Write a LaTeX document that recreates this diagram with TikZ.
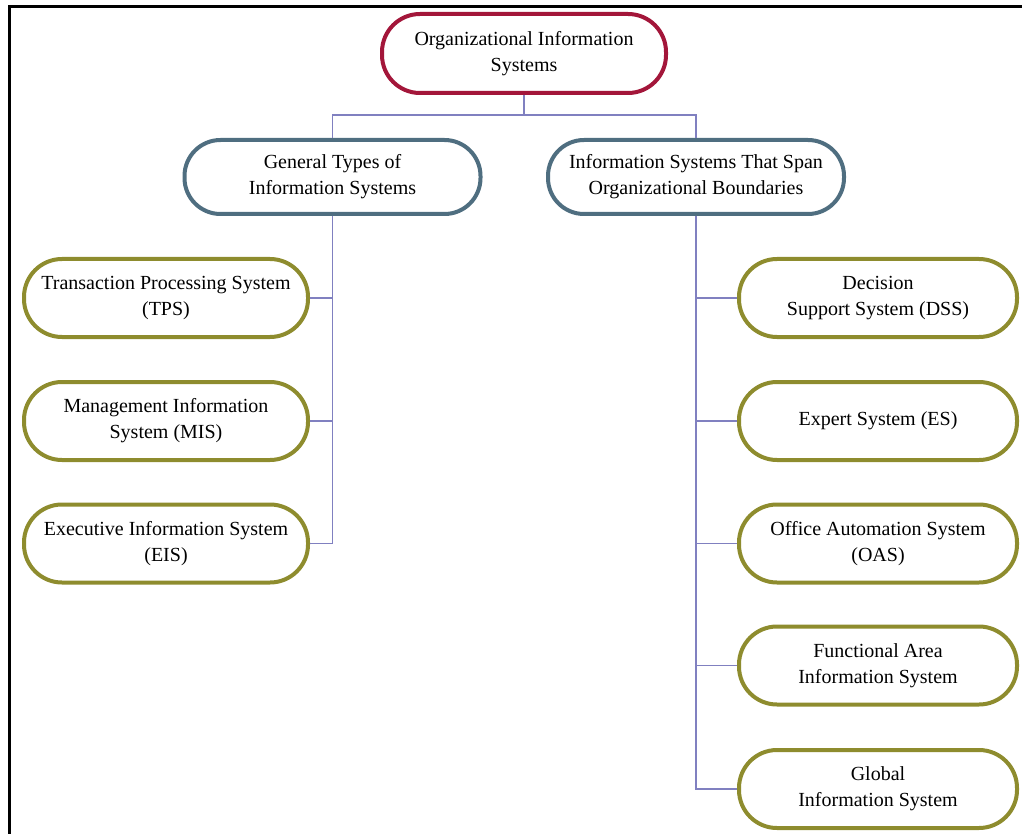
\documentclass[tikz,border=0pt]{standalone}
\usepackage{fontspec}
\setmainfont{Liberation Serif}
\usepackage{xcolor}
\definecolor{RootRed}{HTML}{A3163A}
\definecolor{MidSlate}{HTML}{4F6E80}
\definecolor{LeafOlive}{HTML}{8E8C2E}
\definecolor{LinkLilac}{HTML}{8080C0}

\begin{document}
\begin{tikzpicture}[
	x=1pt, y=-1pt,
	box/.style={
		rectangle,
		rounded corners=38pt,
		fill=white,
		line width=4pt,
		text=black,
		align=center,
		font=\fontsize{20}{26}\selectfont
	},
	root node/.style={
		box,
		draw=RootRed,
		minimum width=284pt,
		minimum height=79pt
	},
	mid node/.style={
		box,
		draw=MidSlate,
		minimum width=296pt,
		minimum height=74pt,
		rounded corners=36pt
	},
	leaf node/.style={
		box,
		draw=LeafOlive,
		minimum width=284pt,
		minimum height=78pt
	},
	% thin tree connector
	edge/.style={
		draw=LinkLilac,
		line width=1.3pt
	}
	]
	
	\useasboundingbox (0,0) rectangle (1022,834);
	
	% page frame
	\draw[line width=3pt] (9.5,834) -- (9.5,7) -- (1022,7);
	
	% ================= NODES =================
	\node[root node] (org) at (524, 53.5) {Organizational Information\\Systems};
	
	\node[mid node] (gen) at (332.5, 177) {General Types of\\Information Systems};
	\node[mid node] (span) at (696, 177) {Information Systems That Span\\Organizational Boundaries};
	
	\node[leaf node] (tps) at (166, 298) {Transaction Processing System\\(TPS)};
	\node[leaf node] (mis) at (166, 421) {Management Information\\System (MIS)};
	\node[leaf node] (eis) at (166, 543.5) {Executive Information System\\(EIS)};
	
	\node[leaf node, minimum width=278pt] (dss) at (878, 298) {Decision\\Support System (DSS)};
	\node[leaf node, minimum width=278pt] (es) at (878, 421) {Expert System (ES)};
	\node[leaf node, minimum width=278pt] (oas) at (878, 543.5) {Office Automation System\\(OAS)};
	\node[leaf node, minimum width=278pt] (fais) at (878, 665.5) {Functional Area\\Information System};
	\node[leaf node, minimum width=278pt] (gis) at (878, 789) {Global\\Information System};
	
	\coordinate (split) at (524, 115);
	
	% ================= EDGES =================
	\draw[edge] (org) -- (split);
	\draw[edge] (split) -| (gen);
	\draw[edge] (split) -| (span);
	
	\draw[edge] (gen.south) |- (tps.east);
	\draw[edge] (gen.south) |- (mis.east);
	\draw[edge] (gen.south) |- (eis.east);
	
	\draw[edge] (span.south) |- (dss.west);
	\draw[edge] (span.south) |- (es.west);
	\draw[edge] (span.south) |- (oas.west);
	\draw[edge] (span.south) |- (fais.west);
	\draw[edge] (span.south) |- (gis.west);
	
\end{tikzpicture}
\end{document}
